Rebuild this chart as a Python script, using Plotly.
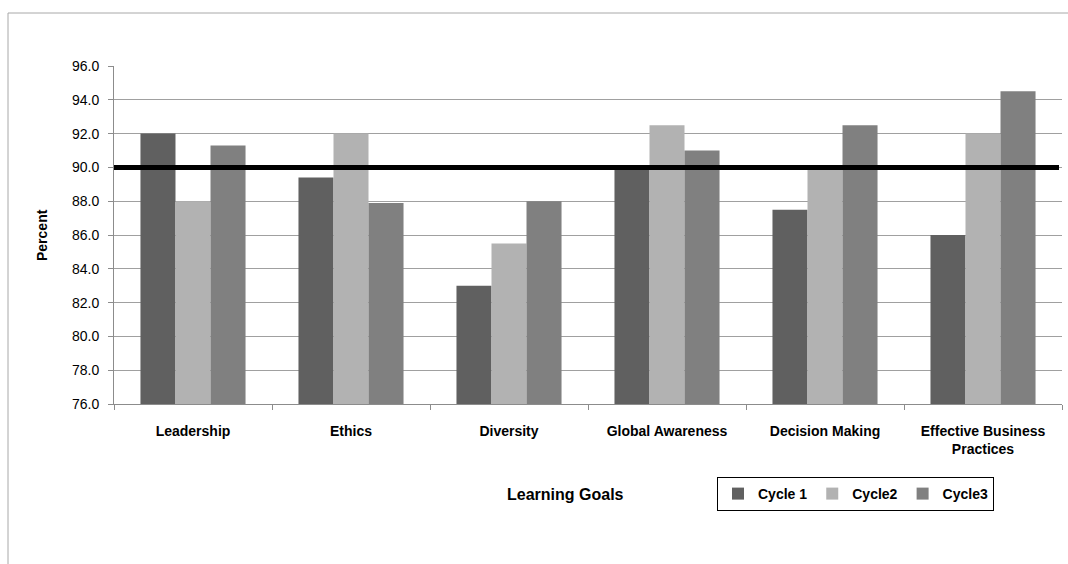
import plotly.graph_objects as go

categories = ["Leadership", "Ethics", "Diversity", "Global Awareness", "Decision Making",
              "Effective Business<br>Practices"]
cycle1 = [92.0, 89.4, 83.0, 90.0, 87.5, 86.0]
cycle2 = [88.0, 92.0, 85.5, 92.5, 90.0, 92.0]
cycle3 = [91.3, 87.9, 88.0, 91.0, 92.5, 94.5]
series_names = ["Cycle 1", "Cycle2", "Cycle3"]
series_colors = ["#606060", "#b2b2b2", "#808080"]
target = 90.0
y_ticks = [76 + 2 * i for i in range(11)]

W, H = 1068, 564
L, R, T, B = 114, 6, 66, 160
pw, ph = W - L - R, H - T - B

def px_to_paper_x(px):
    return (px - L) / pw

def px_to_paper_y(py):
    return (H - B - py) / ph

FONT = "Liberation Sans, Arial, sans-serif"

fig = go.Figure()
for name, vals, col in zip(series_names, [cycle1, cycle2, cycle3], series_colors):
    fig.add_trace(go.Bar(x=categories, y=vals, name=name, marker=dict(color=col, line=dict(width=0))))

fig.update_layout(
    width=W, height=H,
    margin=dict(l=L, r=R, t=T, b=B),
    paper_bgcolor="white", plot_bgcolor="white",
    barmode="group", bargap=0.335, bargroupgap=0,
    font=dict(family=FONT, color="#000000"),
    showlegend=True,
    legend=dict(orientation="h", x=px_to_paper_x(717), y=px_to_paper_y(477),
                xanchor="left", yanchor="top",
                bordercolor="#000000", borderwidth=1,
                font=dict(size=14, family=FONT, weight="bold"),
                itemwidth=30, tracegroupgap=0),
    xaxis=dict(showline=True, linecolor="#8c8c8c", linewidth=1,
               ticks="outside", tickson="boundaries", ticklen=5, tickcolor="#8c8c8c",
               ticklabelstandoff=14,
               tickfont=dict(size=14, family=FONT, weight="bold"),
               showgrid=False),
    yaxis=dict(range=[76, 96], tickvals=y_ticks, ticktext=[f"{v:.1f}" for v in y_ticks],
               showline=True, linecolor="#8c8c8c", linewidth=1,
               ticks="outside", ticklen=5, tickcolor="#8c8c8c",
               ticklabelstandoff=6,
               tickfont=dict(size=14, family=FONT),
               showgrid=True, gridcolor="#a0a0a0", gridwidth=1, zeroline=False),
)

fig.add_shape(type="line", xref="paper", yref="y", x0=0, x1=px_to_paper_x(1059), y0=target, y1=target,
              line=dict(color="#000000", width=5), layer="above")

# outer frame (top and left edges)
fig.add_shape(type="line", xref="paper", yref="paper", x0=px_to_paper_x(8), x1=px_to_paper_x(1068),
              y0=px_to_paper_y(13), y1=px_to_paper_y(13), line=dict(color="#a8a8a8", width=1))
fig.add_shape(type="line", xref="paper", yref="paper", x0=px_to_paper_x(8), x1=px_to_paper_x(8),
              y0=px_to_paper_y(13), y1=px_to_paper_y(564), line=dict(color="#a8a8a8", width=1))

fig.add_annotation(text="<b>Percent</b>", xref="paper", yref="paper",
                   x=px_to_paper_x(42), y=px_to_paper_y(235), textangle=-90, showarrow=False,
                   xanchor="center", yanchor="middle", font=dict(size=14))
fig.add_annotation(text="<b>Learning Goals</b>", xref="paper", yref="paper",
                   x=px_to_paper_x(565), y=px_to_paper_y(494), showarrow=False,
                   xanchor="center", yanchor="middle", font=dict(size=16))

fig.write_html("out.html")
